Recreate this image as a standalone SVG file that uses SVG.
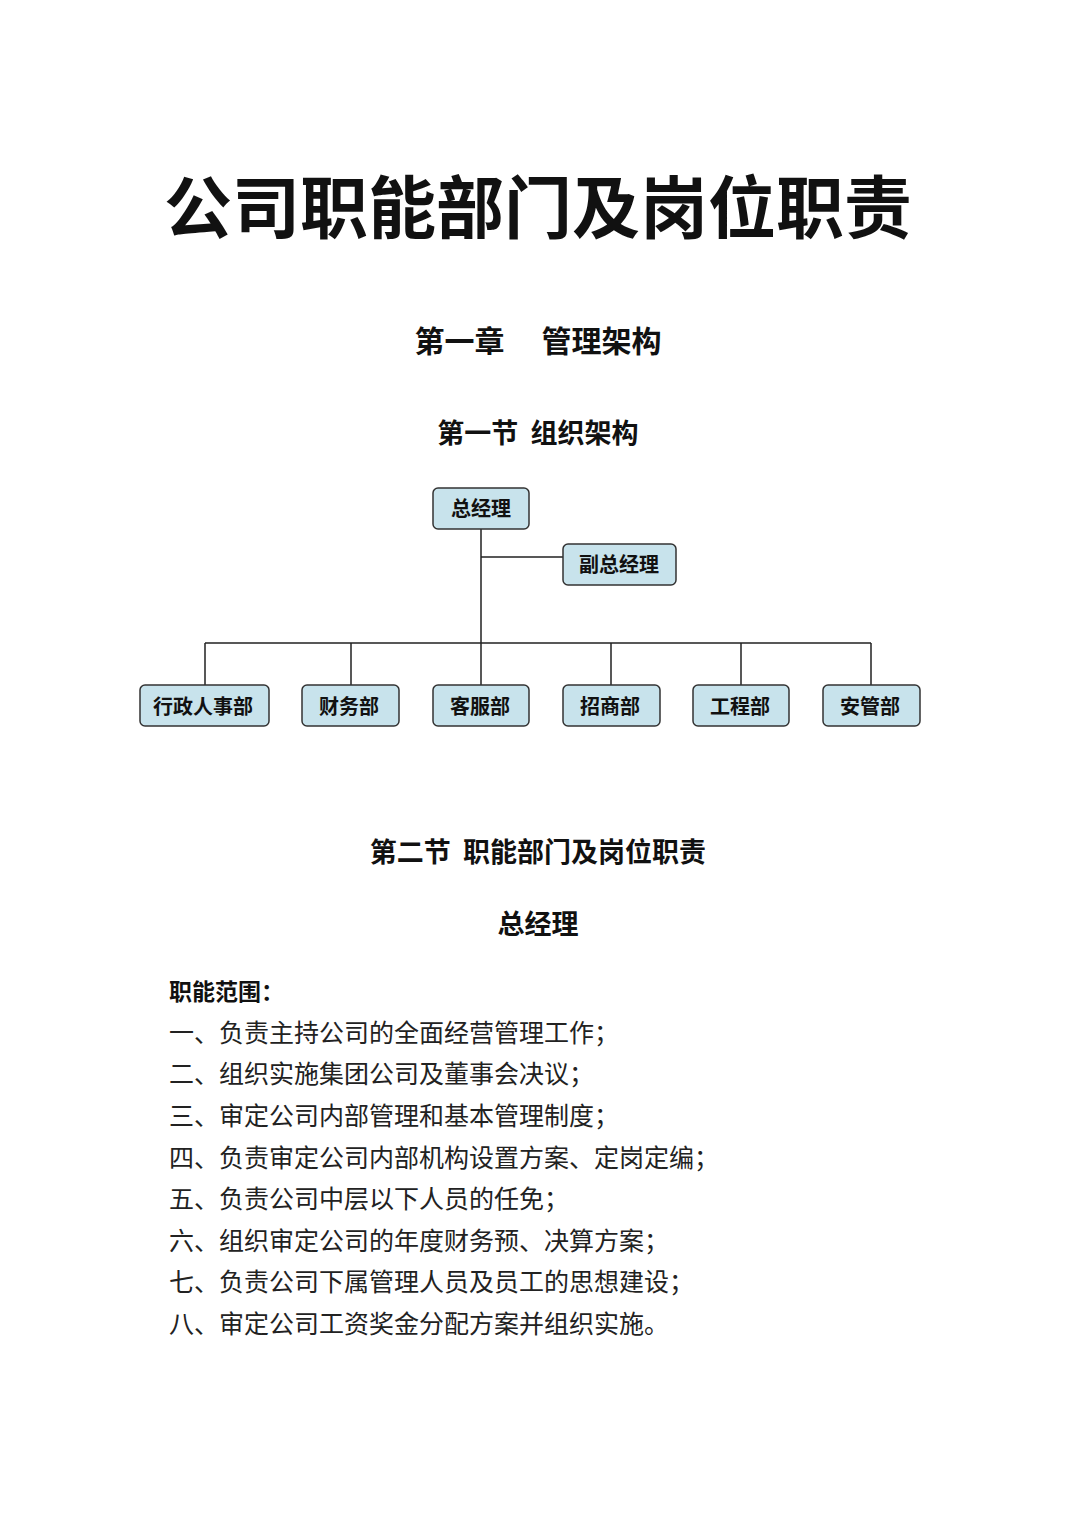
<svg xmlns="http://www.w3.org/2000/svg" width="1080" height="1522" viewBox="0 0 1080 1522">
<style>
text{font-family:"Noto Sans CJK SC","Noto Sans",sans-serif;fill:#111;white-space:pre}
.h{font-weight:bold;text-anchor:middle}
.b{font-size:25px;fill:#222}
.n rect{fill:#c8e3ec;stroke:#333;stroke-width:1.5}
.n text{font-size:20px;font-weight:bold;text-anchor:middle}
#connectors path{stroke:#222;stroke-width:1.5;fill:none}
</style>
<rect width="1080" height="1522" fill="#fff"/>
<text class="h" x="538" y="233" font-size="68">公司职能部门及岗位职责</text>
<text class="h" x="538" y="352" font-size="30">第一章　 管理架构</text>
<text class="h" x="538" y="443" font-size="27">第一节  组织架构</text>
<g id="connectors">
<path d="M481 529V643M481 557H563M205 643H871M205 643V685M351 643V685M481 643V685M611 643V685M741 643V685M871 643V685"/>
</g>
<g id="n-gm" class="n"><rect x="433" y="488" width="96" height="41" rx="5"/><text x="481" y="516">总经理</text></g>
<g id="n-vgm" class="n"><rect x="563" y="544" width="113" height="41" rx="5"/><text x="619" y="572">副总经理</text></g>
<g id="n-hr" class="n"><rect x="140" y="685" width="129" height="41" rx="5"/><text x="203" y="714">行政人事部</text></g>
<g id="n-fin" class="n"><rect x="302" y="685" width="97" height="41" rx="5"/><text x="349" y="714">财务部</text></g>
<g id="n-cs" class="n"><rect x="433" y="685" width="96" height="41" rx="5"/><text x="480" y="714">客服部</text></g>
<g id="n-biz" class="n"><rect x="563" y="685" width="97" height="41" rx="5"/><text x="610" y="714">招商部</text></g>
<g id="n-eng" class="n"><rect x="693" y="685" width="96" height="41" rx="5"/><text x="740" y="714">工程部</text></g>
<g id="n-sec" class="n"><rect x="823" y="685" width="97" height="41" rx="5"/><text x="870" y="714">安管部</text></g>
<text class="h" x="538" y="862" font-size="27">第二节  职能部门及岗位职责</text>
<text class="h" x="538" y="934" font-size="27">总经理</text>
<text x="169" y="1000" font-size="23" font-weight="bold">职能范围：</text>
<text class="b" x="169" y="1042">一、负责主持公司的全面经营管理工作；</text>
<text class="b" x="169" y="1083">二、组织实施集团公司及董事会决议；</text>
<text class="b" x="169" y="1125">三、审定公司内部管理和基本管理制度；</text>
<text class="b" x="169" y="1167">四、负责审定公司内部机构设置方案、定岗定编；</text>
<text class="b" x="169" y="1208">五、负责公司中层以下人员的任免；</text>
<text class="b" x="169" y="1250">六、组织审定公司的年度财务预、决算方案；</text>
<text class="b" x="169" y="1291">七、负责公司下属管理人员及员工的思想建设；</text>
<text class="b" x="169" y="1333">八、审定公司工资奖金分配方案并组织实施。</text>
</svg>
